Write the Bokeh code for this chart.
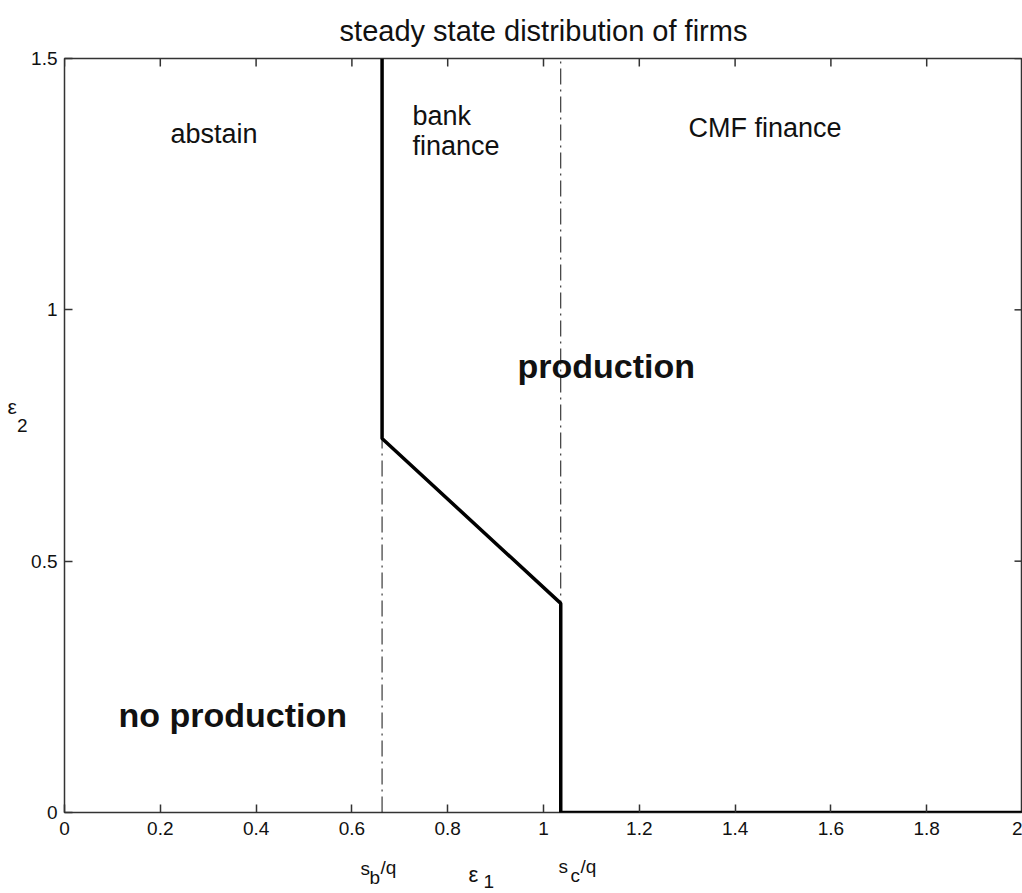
from bokeh.plotting import figure
from bokeh.models import Range1d, FixedTicker, Label
from bokeh.layouts import column, row
from bokeh.embed import file_html
from bokeh.resources import INLINE

# ---- data ----
x_ticks = [0, 0.2, 0.4, 0.6, 0.8, 1.0, 1.2, 1.4, 1.6, 1.8, 2.0]
x_tick_labels = ["0", "0.2", "0.4", "0.6", "0.8", "1", "1.2", "1.4", "1.6", "1.8", "2"]
y_ticks = [0, 0.5, 1.0, 1.5]
y_tick_labels = ["0", "0.5", "1", "1.5"]

sb_q = 0.663   # s_b/q threshold
sc_q = 1.036   # s_c/q threshold
boundary_x = [sb_q, sb_q, sc_q, sc_q, 2.0]
boundary_y = [1.5, 0.744, 0.416, 0.0, 0.0]
cutoff_x = [sb_q, sc_q]
cutoff_lo = [0.0, 0.0]
cutoff_hi = [1.5, 1.5]

FONT = "Liberation Sans"
INK = "#111111"
AXC = "#333333"

X0, X1 = 0, 2
Y0, Y1 = 0, 1.5
LEFT_W = 28

p = figure(width=1022 - LEFT_W, height=845,
           x_range=Range1d(X0, X1), y_range=Range1d(Y0, Y1),
           output_backend="svg", toolbar_location=None,
           min_border_left=64 - LEFT_W, min_border_right=0,
           min_border_top=58, min_border_bottom=33)
p.background_fill_color = "white"
p.border_fill_color = "white"
p.outline_line_color = AXC
p.outline_line_width = 1.5
p.grid.visible = False

p.title.text = "steady state distribution of firms"
p.title.align = "center"
p.title.text_font = FONT
p.title.text_font_size = "29px"
p.title.text_font_style = "normal"
p.title.text_color = INK
p.title.standoff = 24

def style_axis(ax, ticks, labels):
    ax.ticker = FixedTicker(ticks=ticks)
    ax.major_label_overrides = {t: l for t, l in zip(ticks, labels)}
    ax.major_tick_in = 8
    ax.major_tick_out = 0
    ax.major_tick_line_color = AXC
    ax.major_tick_line_width = 1.5
    ax.minor_tick_line_color = None
    ax.axis_line_color = None
    ax.major_label_text_font = FONT
    ax.major_label_text_color = INK
    ax.major_label_text_font_size = "19px"

style_axis(p.xaxis[0], x_ticks, x_tick_labels)
p.xaxis[0].major_label_standoff = 9
style_axis(p.yaxis[0], y_ticks, y_tick_labels)
p.yaxis[0].major_label_standoff = 7

# inward ticks on the top and right edges of the box (at the axis tick values)
tick_dy = 8 / 502.7
tick_dx = 8 / 479.0
p.segment(x0=x_ticks, y0=[Y1] * len(x_ticks), x1=x_ticks, y1=[Y1 - tick_dy] * len(x_ticks),
          line_color=AXC, line_width=1.5)
p.segment(x0=[X1] * len(y_ticks), y0=y_ticks, x1=[X1 - tick_dx] * len(y_ticks), y1=y_ticks,
          line_color=AXC, line_width=1.5)

# dash-dot threshold lines
p.segment(x0=cutoff_x, y0=cutoff_lo, x1=cutoff_x, y1=cutoff_hi,
          line_color=INK, line_width=1, line_dash="16 5 2 5")

# production boundary
p.line(boundary_x, boundary_y, line_color="black", line_width=3.5)

def lab(fig, x, y, text, size, bold=False, align="left"):
    fig.add_layout(Label(x=x, y=y, text=text, text_font=FONT,
                         text_font_size=size, text_color=INK,
                         text_font_style="bold" if bold else "normal",
                         text_align=align, text_baseline="alphabetic"))

# region labels
lab(p, 0.2213, 1.349, "abstain", "27px")
lab(p, 0.7265, 1.385, "bank", "27px")
lab(p, 0.7265, 1.325, "finance", "27px")
lab(p, 1.3027, 1.361, "CMF finance", "27px")
lab(p, 0.9457, 0.889, "production", "34px", bold=True)
lab(p, 0.1127, 0.193, "no production", "34px", bold=True)

# left strip for the y label (shares the y scale)
pl = figure(width=LEFT_W, height=845, x_range=Range1d(0, LEFT_W), y_range=p.y_range,
            output_backend="svg", toolbar_location=None,
            min_border_left=0, min_border_right=0,
            min_border_top=58, min_border_bottom=33)
pl.axis.visible = False
pl.grid.visible = False
pl.outline_line_color = None
pl.background_fill_color = "white"
pl.border_fill_color = "white"
lab(pl, 7, 0.808, "ε", "21px")
lab(pl, 16.5, 0.769, "2", "19px")

# strip under the axis for the x annotations (shares the x scale)
p2 = figure(width=1022, height=47, x_range=p.x_range,
            y_range=Range1d(-0.1592, -0.0657),
            output_backend="svg", toolbar_location=None,
            min_border_left=64, min_border_right=0,
            min_border_top=0, min_border_bottom=0)
p2.axis.visible = False
p2.grid.visible = False
p2.outline_line_color = None
p2.background_fill_color = "white"
p2.border_fill_color = "white"

lab(p2, 0.618, -0.1114, "s", "19px")
lab(p2, 0.6367, -0.1293, "b", "19px")
lab(p2, 0.6597, -0.1095, "/q", "19px")
lab(p2, 0.8434, -0.1234, "ε", "22px")
lab(p2, 0.8747, -0.1373, "1", "19px")
lab(p2, 1.0313, -0.1075, "s", "19px")
lab(p2, 1.0564, -0.1254, "c", "19px")
lab(p2, 1.0772, -0.1075, "/q", "19px")

layout = column(row(pl, p, spacing=0), p2, spacing=0)
open("out.html", "w").write(file_html(layout, INLINE))
